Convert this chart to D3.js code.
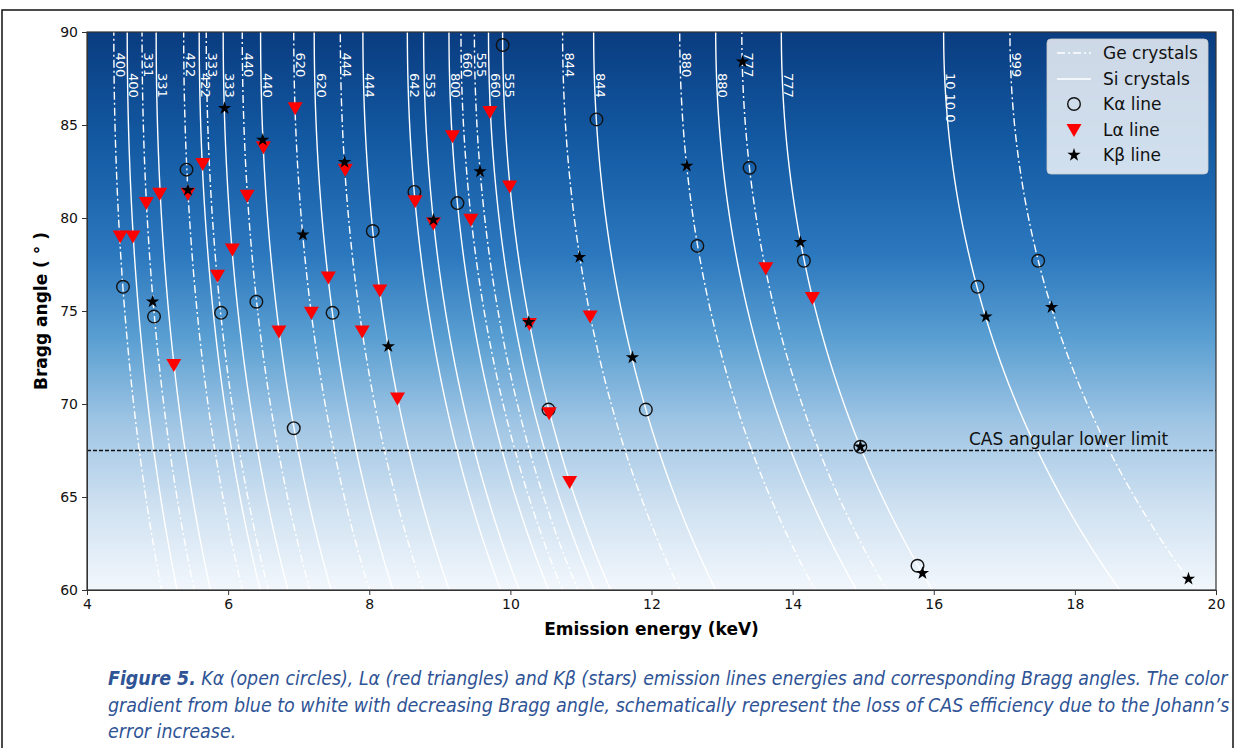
<!DOCTYPE html>
<html lang="en">
<head>
    <meta charset="UTF-8">
    <title>Bragg angles vs emission energy</title>
    <script src="https://d3js.org/d3.v7.min.js"></script>
    <style>
        body { margin: 0; background: #fff; }
        svg text { font-family: "DejaVu Sans", sans-serif; }
    </style>
</head>
<body>
    <div id="grafico"></div>

    <script>
        // Reflexoes dos cristais e energia a 90 graus (keV)
        const geReflections = ["400", "331", "422", "333", "440", "620", "444", "660", "555", "844", "880", "777", "999"];
        const geE0 = [4.38, 4.78, 5.37, 5.69, 6.20, 6.93, 7.59, 9.30, 9.49, 10.74, 12.40, 13.28, 17.08];
        const siReflections = ["400", "331", "422", "333", "440", "620", "444", "642", "553", "800", "660", "555", "844", "880", "777", "10 10 0"];
        const siE0 = [4.57, 4.98, 5.59, 5.93, 6.46, 7.22, 7.91, 8.54, 8.77, 9.13, 9.69, 9.89, 11.18, 12.91, 13.84, 16.14];

        // Linhas de emissao: energia (keV) e angulo de Bragg (graus)
        const kaEnergy = [4.51, 4.95, 5.41, 5.90, 6.40, 6.93, 7.48, 8.05, 8.64, 9.25, 9.89, 10.54, 11.22, 11.92, 12.65, 13.39, 14.16, 14.96, 15.77, 16.62, 17.48];
        const kaAngle = [76.3, 74.7, 82.6, 74.9, 75.5, 68.7, 74.9, 79.3, 81.4, 80.8, 89.3, 69.7, 85.3, 69.7, 78.5, 82.7, 77.7, 67.7, 61.3, 76.3, 77.7];
        const laEnergy = [4.47, 4.65, 4.84, 5.03, 5.23, 5.43, 5.64, 5.85, 6.06, 6.27, 6.50, 6.72, 6.95, 7.18, 7.42, 7.66, 7.90, 8.15, 8.40, 8.65, 8.91, 9.18, 9.44, 9.71, 9.99, 10.27, 10.55, 10.84, 11.13, 13.62, 14.28];
        const laAngle = [79.0, 79.0, 80.8, 81.3, 72.1, 81.3, 82.9, 76.9, 78.3, 81.2, 83.8, 73.9, 85.9, 74.9, 76.8, 82.6, 73.9, 76.1, 70.3, 80.9, 79.7, 84.4, 79.9, 85.7, 81.7, 74.3, 69.5, 65.8, 74.7, 77.3, 75.7];
        const kbEnergy = [4.93, 5.43, 5.95, 6.49, 7.06, 7.65, 8.27, 8.91, 9.57, 10.26, 10.98, 11.73, 12.50, 13.29, 14.11, 14.96, 15.84, 16.74, 17.67, 19.61];
        const kbAngle = [75.5, 81.5, 85.9, 84.2, 79.1, 83.0, 73.1, 79.9, 82.5, 74.4, 77.9, 72.5, 82.8, 88.4, 78.7, 67.7, 60.9, 74.7, 75.2, 60.6];

        const xTicks = [4, 6, 8, 10, 12, 14, 16, 18, 20];
        const yTicks = [60, 65, 70, 75, 80, 85, 90];
        const casLimit = 67.5;

        const width = 1236;
        const height = 748;
        const margin = { left: 87, right: 20, top: 32, bottom: 158 };

        const svg = d3.select('#grafico').append('svg')
            .attr('width', width)
            .attr('height', height);

        const x = d3.scaleLinear().domain([4, 20]).range([margin.left, width - margin.right]);
        const y = d3.scaleLinear().domain([60, 90]).range([height - margin.bottom, margin.top]);
        const pw = x(20) - x(4);
        const ph = y(60) - y(90);

        // gradiente azul -> branco
        const defs = svg.append('defs');
        const grad = defs.append('linearGradient')
            .attr('id', 'fundo')
            .attr('x1', 0).attr('y1', 0).attr('x2', 0).attr('y2', 1);
        const stops = [[0, '#0a3c80'], [0.2, '#135aa3'], [0.4, '#2c78be'], [0.55, '#5a9fd2'], [0.7, '#9fc5e4'], [0.85, '#cfe1f1'], [1, '#f2f7fc']];
        grad.selectAll('stop').data(stops).enter().append('stop')
            .attr('offset', d => d[0])
            .attr('stop-color', d => d[1]);

        defs.append('clipPath').attr('id', 'area')
            .append('rect')
            .attr('x', x(4)).attr('y', y(90))
            .attr('width', pw).attr('height', ph);

        svg.append('rect')
            .attr('x', x(4)).attr('y', y(90))
            .attr('width', pw).attr('height', ph)
            .attr('fill', 'url(#fundo)');

        // curvas de Bragg E = E0 / sin(theta)
        const angles = d3.range(59, 90.001, 0.25);
        const bragg = e0 => d3.line()
            .x(t => x(e0 / Math.sin(t * Math.PI / 180)))
            .y(t => y(t))(angles);

        const curves = svg.append('g').attr('clip-path', 'url(#area)');

        curves.selectAll('.ge').data(geE0).enter().append('path')
            .attr('class', 'ge')
            .attr('d', d => bragg(d))
            .attr('fill', 'none')
            .attr('stroke', '#fff')
            .attr('stroke-width', 1.4)
            .attr('stroke-dasharray', '8,3,2,3');

        curves.selectAll('.si').data(siE0).enter().append('path')
            .attr('class', 'si')
            .attr('d', d => bragg(d))
            .attr('fill', 'none')
            .attr('stroke', '#fff')
            .attr('stroke-width', 1.4);

        // rotulos das reflexoes
        const label = (e0, t) => x(e0 / Math.sin(t * Math.PI / 180)) + 2;
        svg.append('g').selectAll('text').data(geE0).enter().append('text')
            .attr('transform', d => `translate(${label(d, 88.9)},${y(88.9)}) rotate(90)`)
            .attr('fill', '#fff')
            .attr('font-size', 13)
            .text((d, i) => geReflections[i]);

        svg.append('g').selectAll('text').data(siE0).enter().append('text')
            .attr('transform', d => `translate(${label(d, 87.8)},${y(87.8)}) rotate(90)`)
            .attr('fill', '#fff')
            .attr('font-size', 13)
            .text((d, i) => siReflections[i]);

        // limite inferior
        svg.append('line')
            .attr('x1', x(4)).attr('x2', x(20))
            .attr('y1', y(casLimit)).attr('y2', y(casLimit))
            .attr('stroke', '#111')
            .attr('stroke-width', 1.3)
            .attr('stroke-dasharray', '4,2');

        svg.append('text')
            .attr('x', 969).attr('y', y(casLimit) - 6)
            .attr('font-size', 17)
            .attr('fill', '#111')
            .text('CAS angular lower limit');

        // marcadores
        const star = d3.symbol().type(d3.symbolStar).size(55);
        const tri = 'M-7.5,-6L7.5,-6L0,7Z';

        svg.append('g').selectAll('circle').data(kaEnergy).enter().append('circle')
            .attr('cx', d => x(d))
            .attr('cy', (d, i) => y(kaAngle[i]))
            .attr('r', 6.3)
            .attr('fill', 'none')
            .attr('stroke', '#111')
            .attr('stroke-width', 1.4);

        svg.append('g').selectAll('path').data(laEnergy).enter().append('path')
            .attr('transform', (d, i) => `translate(${x(d)},${y(laAngle[i])})`)
            .attr('d', tri)
            .attr('fill', '#ff0000');

        svg.append('g').selectAll('path').data(kbEnergy).enter().append('path')
            .attr('transform', (d, i) => `translate(${x(d)},${y(kbAngle[i])})`)
            .attr('d', star())
            .attr('fill', '#000');

        // eixos
        const xAxis = svg.append('g')
            .attr('transform', `translate(0,${y(60)})`)
            .call(d3.axisBottom(x).tickValues(xTicks).tickSize(5).tickPadding(4));
        const yAxis = svg.append('g')
            .attr('transform', `translate(${x(4)},0)`)
            .call(d3.axisLeft(y).tickValues(yTicks).tickSize(5).tickPadding(4));
        [xAxis, yAxis].forEach(a => {
            a.selectAll('text').attr('font-size', 14).attr('fill', '#111').style('font-family', '"DejaVu Sans", sans-serif');
            a.selectAll('line').attr('stroke', '#333');
            a.select('.domain').attr('stroke', '#333');
        });

        svg.append('rect')
            .attr('x', x(4)).attr('y', y(90))
            .attr('width', pw).attr('height', ph)
            .attr('fill', 'none')
            .attr('stroke', '#333')
            .attr('stroke-width', 1.2);

        svg.append('text')
            .attr('x', (x(4) + x(20)) / 2).attr('y', 635)
            .attr('text-anchor', 'middle')
            .attr('font-size', 17)
            .attr('font-weight', 'bold')
            .text('Emission energy (keV)');

        svg.append('text')
            .attr('transform', `translate(47,${(y(60) + y(90)) / 2}) rotate(-90)`)
            .attr('text-anchor', 'middle')
            .attr('font-size', 17)
            .attr('font-weight', 'bold')
            .text('Bragg angle ( ° )');

        // legenda
        const leg = svg.append('g');
        leg.append('rect')
            .attr('x', 1047).attr('y', 39)
            .attr('width', 161).attr('height', 135)
            .attr('rx', 4)
            .attr('fill', 'rgba(255,255,255,0.8)')
            .attr('stroke', 'rgba(204,204,204,0.8)');
        const legNames = ['Ge crystals', 'Si crystals', 'Kα line', 'Lα line', 'Kβ line'];
        const legY = [53, 79, 104, 130, 155];
        leg.append('line').attr('x1', 1057).attr('x2', 1091).attr('y1', legY[0]).attr('y2', legY[0])
            .attr('stroke', '#fff').attr('stroke-width', 1.4).attr('stroke-dasharray', '8,3,2,3');
        leg.append('line').attr('x1', 1057).attr('x2', 1091).attr('y1', legY[1]).attr('y2', legY[1])
            .attr('stroke', '#fff').attr('stroke-width', 1.4);
        leg.append('circle').attr('cx', 1074).attr('cy', legY[2]).attr('r', 6.3)
            .attr('fill', 'none').attr('stroke', '#111').attr('stroke-width', 1.4);
        leg.append('path').attr('transform', `translate(1074,${legY[3]})`).attr('d', tri).attr('fill', '#ff0000');
        leg.append('path').attr('transform', `translate(1074,${legY[4]})`).attr('d', star()).attr('fill', '#000');
        leg.selectAll('.nome').data(legNames).enter().append('text')
            .attr('x', 1103)
            .attr('y', (d, i) => legY[i] + 6)
            .attr('font-size', 17)
            .attr('fill', '#111')
            .text(d => d);

        // moldura
        svg.append('rect')
            .attr('x', 2).attr('y', 10)
            .attr('width', 1231).attr('height', 745)
            .attr('fill', 'none')
            .attr('stroke', '#111')
            .attr('stroke-width', 1.5);

        // legenda da figura
        const captionLines = [
            [['Figure 5.', true], [' Kα (open circles), Lα (red triangles) and Kβ (stars) emission lines energies and corresponding Bragg angles. The color', false]],
            [['gradient from blue to white with decreasing Bragg angle, schematically represent the loss of CAS efficiency due to the Johann’s', false]],
            [['error increase.', false]]
        ];
        const captionY = [685, 712, 738];
        const captionW = [1120, 1122, null];
        let escala = 1;
        captionLines.forEach((linha, i) => {
            const t = svg.append('text')
                .attr('font-size', 19)
                .attr('font-style', 'italic')
                .attr('fill', '#2f5496')
                .style('font-family', '"Liberation Sans Narrow", "DejaVu Sans Condensed", "Roboto", sans-serif');
            linha.forEach(p => {
                t.append('tspan').attr('font-weight', p[1] ? 'bold' : 'normal').text(p[0]);
            });
            const w = t.node().getComputedTextLength();
            if (captionW[i]) escala = captionW[i] / w;
            t.attr('transform', `translate(108,${captionY[i]}) scale(${escala},1)`);
        });
    </script>
</body>
</html>
